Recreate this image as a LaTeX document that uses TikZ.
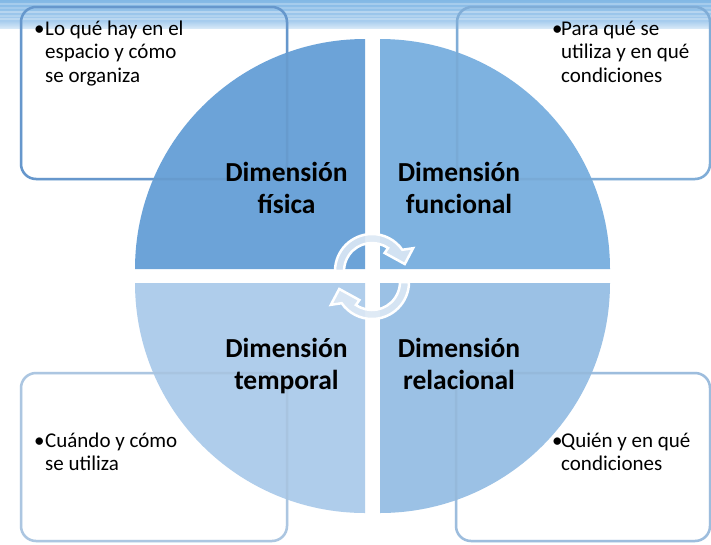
\documentclass[tikz,border=0pt]{standalone}
\usepackage{fontspec}
\setmainfont{Carlito}
\definecolor{qUL}{HTML}{6CA3D8}
\definecolor{qUR}{HTML}{7EB2E0}
\definecolor{qLL}{HTML}{AFCDEB}
\definecolor{qLR}{HTML}{9BC1E5}
\definecolor{bUL}{HTML}{6B9FD6}
\definecolor{bUR}{HTML}{86B5E1}
\definecolor{bLL}{HTML}{B4D0EC}
\definecolor{bLR}{HTML}{A5C6E8}
\definecolor{bandA}{HTML}{82B8E5}
\definecolor{bandB}{HTML}{A8CDEE}
\definecolor{bandC}{HTML}{D6E8F7}
\definecolor{arrfill}{HTML}{DCE8F5}
\begin{document}
\begin{tikzpicture}[x=1pt,y=-1pt,
  boxline/.style={line width=2.5pt, rounded corners=15pt},
  txt/.style={font=\fontsize{21}{23.5}\selectfont, inner sep=0pt, text=black},
  lab/.style={font=\bfseries\fontsize{27.5}{32}\selectfont, inner sep=0pt, text=black},
  arrowshape/.style={fill=arrfill, fill opacity=0.9, draw=white, line width=2.5pt, line join=miter}]
\useasboundingbox (0,0) rectangle (711,544);
\fill[white] (0,0) rectangle (711,544);
% top band
\shade[top color=bandA, bottom color=bandB] (0,0) rectangle (711,21);
\shade[top color=bandB, bottom color=bandC] (0,21) rectangle (711,28);
\foreach \yy/\op in {3/0.25,7/0.18,11/0.3,15/0.2,18/0.25}{
  \fill[white, opacity=\op] (0,\yy) rectangle (711,\yy+1.5);
}
% boxes
\draw[boxline, bUL] (21,7) rectangle (287,179);
\draw[boxline, bUR] (457,7) rectangle (710,179);
\draw[boxline, bLL] (21,373) rectangle (287,541);
\draw[boxline, bLR] (456,373) rectangle (710,541);
% pie quadrants
\fill[qUL] (365,269) -- (135,269) arc[start angle=180, end angle=270, radius=230] -- cycle;
\fill[qUR] (380,269) -- (380,39) arc[start angle=270, end angle=360, radius=230] -- cycle;
\fill[qLR] (380,283) -- (610,283) arc[start angle=0, end angle=90, radius=230] -- cycle;
\fill[qLL] (365,283) -- (365,513) arc[start angle=90, end angle=180, radius=230] -- cycle;
% faint box borders through the pie
\begin{scope}[draw opacity=0.22]
\draw[boxline, bUL!80!black] (21,7) rectangle (287,179);
\draw[boxline, bUR!80!black] (457,7) rectangle (710,179);
\draw[boxline, bLL!80!black] (21,373) rectangle (287,541);
\draw[boxline, bLR!80!black] (456,373) rectangle (710,541);
\end{scope}
% circular arrows
\begin{scope}[shift={(372,271)}]
\path[arrowshape] (180:37) arc[start angle=180, end angle=325, radius=37]
  -- (331:47) -- (348:33.5) -- (305:22) -- (305:28)
  arc[start angle=305, end angle=180, radius=28] -- cycle;
\end{scope}
\begin{scope}[shift={(372,282)}, rotate=180]
\path[arrowshape] (180:37) arc[start angle=180, end angle=325, radius=37]
  -- (331:47) -- (348:33.5) -- (305:22) -- (305:28)
  arc[start angle=305, end angle=180, radius=28] -- cycle;
\end{scope}
% labels
\node[lab, anchor=base] (lUL) at (286.5,181) {\begin{tabular}[t]{@{}c@{}}Dimensión\\física\end{tabular}};
\node[lab, anchor=base] (lUR) at (459,181) {\begin{tabular}[t]{@{}c@{}}Dimensión\\funcional\end{tabular}};
\node[lab, anchor=base] (lLL) at (286.5,357) {\begin{tabular}[t]{@{}c@{}}Dimensión\\temporal\end{tabular}};
\node[lab, anchor=base] (lLR) at (459,357) {\begin{tabular}[t]{@{}c@{}}Dimensión\\relacional\end{tabular}};
% box texts
\node[txt, anchor=base west] (tUL) at (45,35) {\begin{tabular}[t]{@{}l@{}}\llap{\makebox[11pt][l]{•}}Lo qué hay en el\\espacio y cómo\\se organiza\end{tabular}};
\node[txt, anchor=base west] (tUR) at (561,35) {\begin{tabular}[t]{@{}l@{}}\llap{\makebox[9pt][l]{•}}Para qué se\\utiliza y en qué\\condiciones\end{tabular}};
\node[txt, anchor=base west] (tLL) at (45,447) {\begin{tabular}[t]{@{}l@{}}\llap{\makebox[11pt][l]{•}}Cuándo y cómo\\se utiliza\end{tabular}};
\node[txt, anchor=base west] (tLR) at (561,447) {\begin{tabular}[t]{@{}l@{}}\llap{\makebox[9pt][l]{•}}Quién y en qué\\condiciones\end{tabular}};
\end{tikzpicture}
\end{document}
